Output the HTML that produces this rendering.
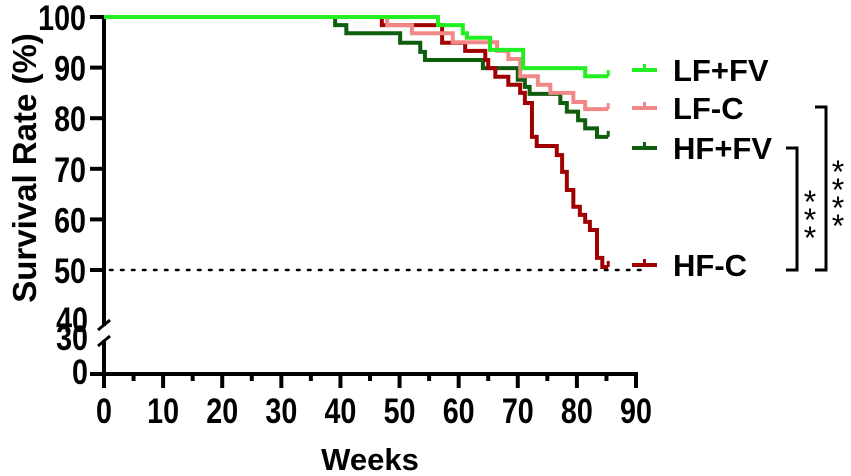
<!DOCTYPE html>
<html><head><meta charset="utf-8"><style>
body{margin:0;background:#fff;}
svg{display:block;font-family:"Liberation Sans",sans-serif;font-weight:bold;}
</style></head><body>
<svg width="851" height="476" viewBox="0 0 851 476">
<g id="axes"></g>
<g id="series"></g>
<g id="legend"></g>
<text transform="translate(36,168) rotate(-90)" text-anchor="middle" font-size="33" fill="#000">Survival Rate (%)</text>
<text x="370" y="470" text-anchor="middle" font-size="31" fill="#000">Weeks</text>
<g stroke="#000" stroke-width="3" fill="none">
<path d="M786,148 H797 V270 H786"/>
<path d="M815,107 H826 V270 H815"/>
</g>
<g font-size="32" font-weight="normal" text-anchor="middle" fill="#000">
<text x="810" y="213">*</text><text x="810" y="231">*</text><text x="810" y="249">*</text>
</g>
<g font-size="32" font-weight="normal" text-anchor="middle" fill="#000">
<text x="838" y="183">*</text><text x="838" y="201">*</text><text x="838" y="219">*</text><text x="838" y="237">*</text>
</g>
</svg>
<script>
const xTicks=[0,10,20,30,40,50,60,70,80,90];
const yTicksUpper=[50,60,70,80,90,100];
const seriesNames=["LF+FV","LF-C","HF+FV","HF-C"];
const seriesColors=["#22ee22","#f08888","#0e5e0e","#a00000"];
const lfFvT=[0,56.5,60.7,61.4,65.3,70.9,81.4,85.3];
const lfFvS=[100,98.4,96.8,95.9,93.5,89.9,88.3,88.3];
const lfCT=[0,47.9,52.1,59,66.5,68.4,70.4,73.4,75.5,79.4,81.4,85.3];
const lfCS=[100,98.4,96.8,95,93.3,91.7,88.3,86.6,85,83.2,81.8,81.8];
const hfFvT=[0,39.1,41,50.1,53.5,54.3,64.1,70,71.2,72,77.2,78.3,80.2,81.4,83.4,85.3];
const hfFvS=[100,98.4,96.8,94.9,93.1,91.5,89.9,87.6,86.2,84.8,83,81.3,79.6,78,76.3,76.3];
const hfCT=[0,47,52.9,57.2,61.1,64.5,65,66.2,68.4,70.4,71.2,72.4,73.2,76.6,77.5,78.3,79.4,80.5,81.4,82.2,83.4,84.3,85.3];
const hfCS=[100,98.4,98.4,94.9,93.3,91.5,89.9,88.2,86.6,85,83,76.3,74.5,72.7,69.4,65.8,62.5,60.9,59.5,57.9,52.4,50.6,50.6];
const legendY=[70,108,148,265];

const NS="http://www.w3.org/2000/svg";
const X=t=>104+t*(532/90);
const Y=s=>17+(100-s)*(253/50);
const SX=0.82;
const FS=35;
function mk(tag,attrs,parent){const e=document.createElementNS(NS,tag);for(const k in attrs)e.setAttribute(k,attrs[k]);parent.appendChild(e);return e;}
const axes=document.getElementById('axes');
let e=mk('line',{x1:104,y1:15,x2:104,y2:326,stroke:'#000','stroke-width':4},axes);


e=mk('line',{x1:104,y1:340,x2:104,y2:376,stroke:'#000','stroke-width':4},axes);


e=mk('path',{d:'M98,330 L110,320 M98,346 L110,336',stroke:'#000','stroke-width':3,fill:'none'},axes);


yTicksUpper.forEach(v=>{
  const y=Y(v);
  const l=mk('line',{x1:90,y1:y,x2:104,y2:y,stroke:'#000','stroke-width':4},axes);
  
  
  const t=mk('text',{x:86/SX,y:y+13,'text-anchor':'end','font-size':FS,transform:`scale(${SX},1)`},axes);
  t.textContent=v;
  
  
});
[["40",332],["30",350],["0",384]].forEach(([s,y])=>{
  const t=mk('text',{x:88/SX,y:y,'text-anchor':'end','font-size':FS,transform:`scale(${SX},1)`},axes);
  t.textContent=s;
  
  
});
e=mk('line',{x1:90,y1:374,x2:104,y2:374,stroke:'#000','stroke-width':4},axes);


e=mk('line',{x1:102,y1:374,x2:638,y2:374,stroke:'#000','stroke-width':4},axes);


xTicks.forEach(v=>{
  const x=X(v);
  const l=mk('line',{x1:x,y1:374,x2:x,y2:388,stroke:'#000','stroke-width':4},axes);
  
  
  if(v<90){const m=mk('line',{x1:X(v+5),y1:374,x2:X(v+5),y2:381,stroke:'#000','stroke-width':4},axes);
  
  }
  const t=mk('text',{x:x/SX,y:423,'text-anchor':'middle','font-size':FS,transform:`scale(${SX},1)`},axes);
  t.textContent=v;
  
  
});
e=mk('line',{x1:X(0)+6,y1:Y(50),x2:645,y2:Y(50),stroke:'#000','stroke-width':2.5,'stroke-dasharray':'2.5 8.5','stroke-linecap':'round'},axes);


const sg=document.getElementById('series');
const data=[[lfFvT,lfFvS],[lfCT,lfCS],[hfFvT,hfFvS],[hfCT,hfCS]];
const order=[2,3,1,0];
order.forEach(i=>{
  const [T,S]=data[i];
  let d=`M${X(T[0])},${Y(S[0])}`;
  for(let k=1;k<T.length;k++){d+=` H${X(T[k])} V${Y(S[k])}`;}
  const p=mk('path',{d:d,stroke:seriesColors[i],'stroke-width':4,fill:'none'},sg);
  
  
  const xe=X(T[T.length-1]), ye=Y(S[S.length-1]);
  const c=mk('line',{x1:xe,y1:ye,x2:xe,y2:ye-6,stroke:seriesColors[i],'stroke-width':3},sg);
  
  
});
const lg=document.getElementById('legend');
seriesNames.forEach((n,i)=>{
  const y=legendY[i];
  const g=mk('g',{},lg);
  
  
  mk('line',{x1:632,y1:y,x2:657,y2:y,stroke:seriesColors[i],'stroke-width':4},g);
  mk('line',{x1:644.5,y1:y,x2:644.5,y2:y-6,stroke:seriesColors[i],'stroke-width':3},g);
  const t=mk('text',{x:673,y:y+11,'font-size':31},g);
  t.textContent=n;
});
</script>
</body></html>
